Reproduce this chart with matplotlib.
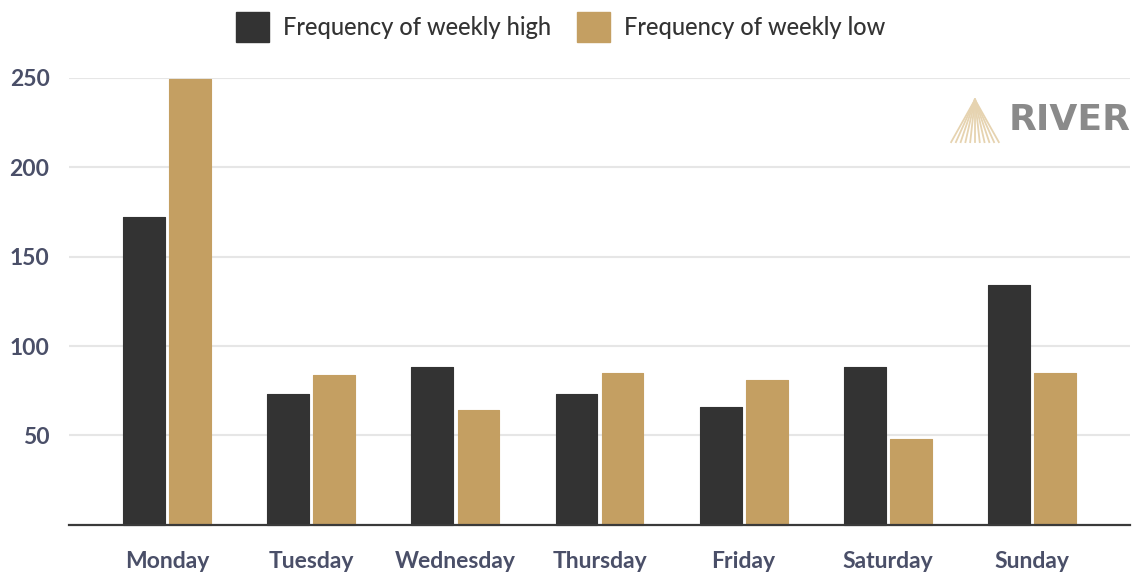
import matplotlib.pyplot as plt
import matplotlib.lines as mlines
from matplotlib.patches import Patch
import numpy as np

# data
DAYS = ["Monday", "Tuesday", "Wednesday", "Thursday", "Friday", "Saturday", "Sunday"]
WEEKLY_HIGH = [172, 73, 88, 73, 66, 88, 134]
WEEKLY_LOW = [249, 84, 64, 85, 81, 48, 85]
Y_TICKS = [50, 100, 150, 200, 250]
SERIES_NAMES = ["Frequency of weekly high", "Frequency of weekly low"]

# style
DARK = "#333333"
GOLD = "#c49f62"
TICK_COLOR = "#4a4f68"
GRID_COLOR = "#e6e6e6"
BAR_W = 0.29
OFFSET = 0.16

plt.rcParams["font.family"] = ["Lato", "DejaVu Sans"]

fig = plt.figure(figsize=(11.35, 5.73), dpi=100)
ax = fig.add_axes([0.0608, 0.0838, 0.9348, 0.7809])

x = np.arange(len(DAYS))
for vals, off, col in [(WEEKLY_HIGH, -OFFSET, DARK), (WEEKLY_LOW, OFFSET, GOLD)]:
    bars = ax.bar(x + off, vals, width=BAR_W, color=col, edgecolor=col,
                  linewidth=0.8, zorder=3, clip_on=False)
    for b in bars:
        b.set_joinstyle("round")

ax.set_xlim(-0.68, len(DAYS) - 1 + 0.68)
ax.set_ylim(0, 250)
ax.set_yticks(Y_TICKS)
ax.set_xticks(x)
ax.set_xticklabels(DAYS)
ax.grid(axis="y", color=GRID_COLOR, linewidth=1.5, zorder=0)
ax.set_axisbelow(True)

for s in ["top", "right", "left"]:
    ax.spines[s].set_visible(False)
ax.spines["bottom"].set_color("#3a3a3a")
ax.spines["bottom"].set_linewidth(1.6)
ax.spines["bottom"].set_zorder(4)

ax.tick_params(axis="both", length=0, labelsize=16.5, labelcolor=TICK_COLOR)
ax.tick_params(axis="x", pad=19)
ax.tick_params(axis="y", pad=14)
for lab in ax.get_xticklabels() + ax.get_yticklabels():
    lab.set_fontweight("bold")

# legend on top
handles = [Patch(facecolor=DARK, edgecolor=DARK), Patch(facecolor=GOLD, edgecolor=GOLD)]
leg = fig.legend(handles, SERIES_NAMES, loc="center", bbox_to_anchor=(0.494, 0.953),
                 ncol=2, frameon=False, handlelength=1.4, handleheight=1.6,
                 handletextpad=0.6, columnspacing=1.1, labelcolor=DARK,
                 prop={"weight": "medium", "size": 17})

# RIVER logo
fig.text(0.889, 0.79, "RIVER", fontsize=26, fontweight="bold", color="#8a8a8a",
         family="DejaVu Sans", ha="left", va="center")
apex = (0.859, 0.826)
for dx in np.linspace(-0.021, 0.021, 11):
    fig.add_artist(mlines.Line2D([apex[0], apex[0] + dx], [apex[1], 0.752],
                                 color="#e6d3b0", linewidth=1.3, transform=fig.transFigure))

fig.savefig("out.png", dpi=100)
